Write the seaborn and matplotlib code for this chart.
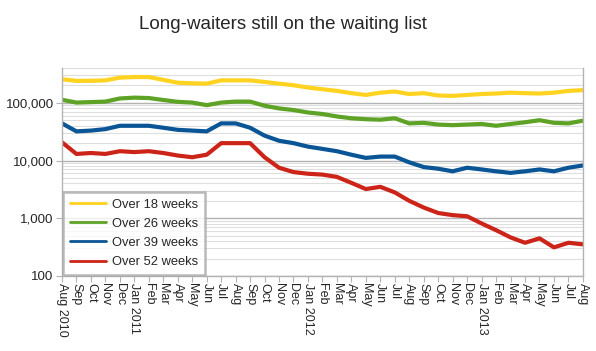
import numpy as np
import pandas as pd
import seaborn as sns
import matplotlib.pyplot as plt
from matplotlib.ticker import FixedLocator, FuncFormatter, NullFormatter

# monthly figures, Aug 2010 .. Aug 2013
months = ["Aug 2010", "Sep", "Oct", "Nov", "Dec", "Jan 2011", "Feb", "Mar", "Apr", "May", "Jun", "Jul",
          "Aug", "Sep", "Oct", "Nov", "Dec", "Jan 2012", "Feb", "Mar", "Apr", "May", "Jun", "Jul",
          "Aug", "Sep", "Oct", "Nov", "Dec", "Jan 2013", "Feb", "Mar", "Apr", "May", "Jun", "Jul", "Aug"]

over18 = [256000, 240000, 241000, 245000, 273000, 280000, 280000, 250000, 223000, 218000, 215000, 245000,
          245000, 245000, 230000, 215000, 202000, 184000, 172000, 161000, 147000, 137000, 150000, 157000,
          142000, 147000, 134000, 132000, 137000, 142000, 145000, 150000, 147000, 145000, 150000, 161000, 166000]
over26 = [113000, 101000, 103000, 105000, 119000, 123000, 121000, 112000, 104000, 101000, 91000, 101000,
          105000, 105000, 89000, 80000, 75000, 68000, 64000, 58000, 54000, 52000, 51000, 54000,
          44000, 45000, 42000, 41000, 42000, 43000, 40000, 43000, 46000, 50000, 45000, 44000, 49000]
over39 = [44000, 32000, 33000, 35000, 40000, 40000, 40000, 37000, 34000, 33000, 32000, 44000,
          44000, 37000, 27000, 22000, 20000, 17400, 15900, 14500, 12600, 11100, 11700, 11700,
          9300, 7700, 7200, 6500, 7500, 7000, 6500, 6100, 6500, 7000, 6500, 7500, 8200]
over52 = [20700, 13000, 13500, 13000, 14500, 14000, 14500, 13500, 12200, 11400, 12600, 20000,
          20000, 20000, 11400, 7500, 6300, 5900, 5700, 5200, 4100, 3200, 3500, 2800,
          2000, 1530, 1230, 1130, 1080, 810, 620, 465, 375, 447, 312, 375, 352]

series = ["Over 18 weeks", "Over 26 weeks", "Over 39 weeks", "Over 52 weeks"]
colors = ["#ffd320", "#5ea226", "#0a5596", "#cc2418"]

n = len(months)
df = pd.DataFrame({
    "month": list(range(n)) * 4,
    "value": over18 + over26 + over39 + over52,
    "series": [s for s in series for _ in range(n)],
})

sns.set_style("white")
plt.rcParams["font.family"] = ["Liberation Sans", "DejaVu Sans"]

fig = plt.figure(figsize=(5.96, 3.51), dpi=100)
ax = fig.add_axes([0.104, 0.214, 0.874, 0.592])

sns.lineplot(data=df, x="month", y="value", hue="series", palette=colors,
             linewidth=3, ax=ax)

ax.set_yscale("log")
ax.set_ylim(100, 400000)
ax.set_xlim(0, n - 1)

ax.yaxis.set_major_locator(FixedLocator([100, 1000, 10000, 100000]))
ax.yaxis.set_major_formatter(FuncFormatter(lambda v, p: f"{int(v):,}"))
minor = [m * 10 ** e for e in range(2, 6) for m in range(2, 10) if m * 10 ** e <= 400000]
ax.yaxis.set_minor_locator(FixedLocator(minor))
ax.yaxis.set_minor_formatter(NullFormatter())

ax.grid(True, which="major", axis="y", color="#b3b3b3", linewidth=1)
ax.grid(True, which="minor", axis="y", color="#dedede", linewidth=0.8)
ax.set_axisbelow(True)

ax.set_xticks(range(n))
ax.set_xticklabels(months, rotation=-90, fontsize=9, va="top", ha="center")
ax.tick_params(axis="x", length=4, width=0.8, color="#b3b3b3", pad=1, direction="out", bottom=True)
ax.tick_params(axis="y", which="major", length=4, width=0.8, color="#b3b3b3", labelsize=9.6, pad=2, left=True)
ax.tick_params(axis="y", which="minor", length=0)

for side in ["left", "right", "bottom"]:
    ax.spines[side].set_color("#b3b3b3")
    ax.spines[side].set_linewidth(1)
ax.spines["top"].set_visible(False)

ax.set_xlabel("")
ax.set_ylabel("")

leg = ax.legend(loc="lower left", bbox_to_anchor=(0.0, 0.0), fontsize=9.3, frameon=True,
                fancybox=False, handlelength=2.8, handletextpad=0.5, labelspacing=0.55,
                borderpad=0.5, borderaxespad=0.1)
leg.get_frame().set_edgecolor("#a8a8a8")
leg.get_frame().set_linewidth(1.8)
for line in leg.get_lines():
    line.set_linewidth(2)

fig.text(0.475, 0.93, "Long-waiters still on the waiting list", ha="center", va="center", fontsize=13.5)

fig.savefig("out.png", dpi=100, facecolor="white")
